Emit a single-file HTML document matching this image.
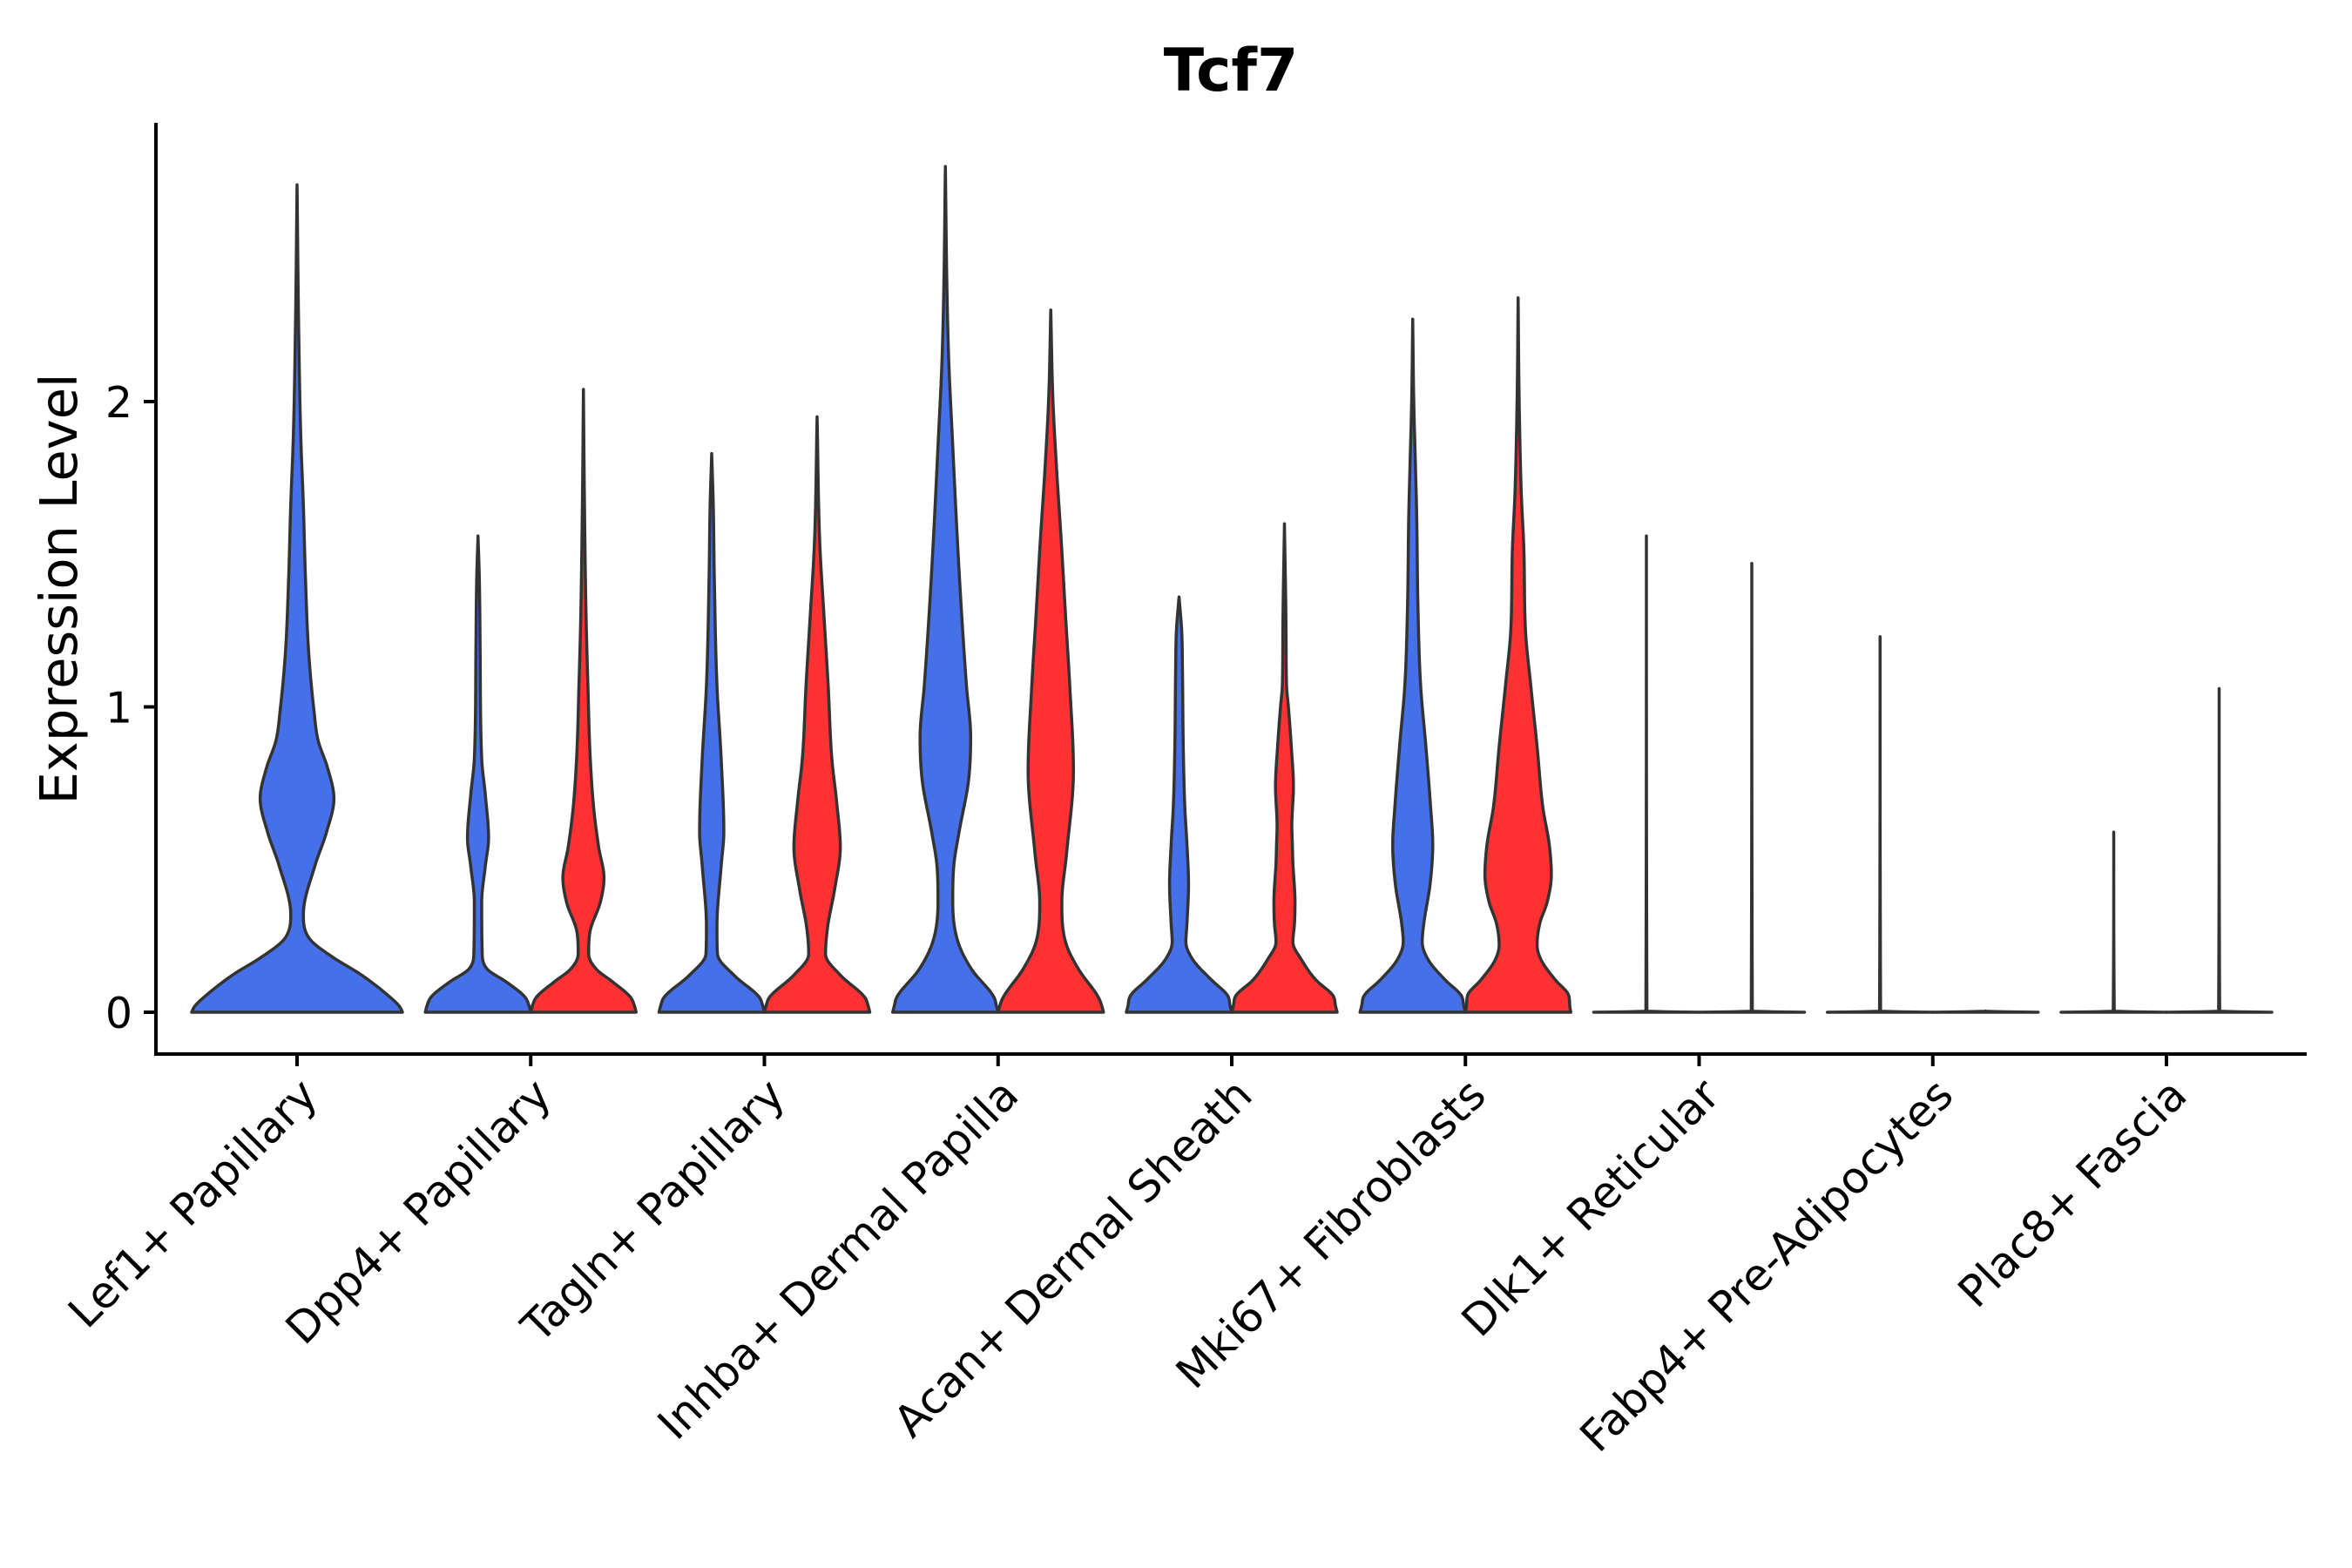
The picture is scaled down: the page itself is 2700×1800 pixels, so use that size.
<!DOCTYPE html>
<html><head><meta charset="utf-8"><style>
html,body{margin:0;padding:0;background:#fff;}
svg{display:block;font-family:"DejaVu Sans","Liberation Sans",sans-serif;}
</style></head>
<body>
<svg id="chart" width="2700" height="1800" viewBox="0 0 2700 1800" xmlns="http://www.w3.org/2000/svg">
<rect width="2700" height="1800" fill="#fff"/>
<text x="1413" y="104" text-anchor="middle" font-size="68" font-weight="bold">Tcf7</text>
<text transform="translate(88,676) rotate(-90)" text-anchor="middle" font-size="59">Expression Level</text>
<g id="violins"></g>
<g id="axes"></g>
</svg>
<script>
const categories = ["Lef1+ Papillary","Dpp4+ Papillary","Tagln+ Papillary","Inhba+ Dermal Papilla","Acan+ Dermal Sheath","Mki67+ Fibroblasts","Dlk1+ Reticular","Fabp4+ Pre-Adipocytes","Plac8+ Fascia"];
const yTicks = [0,1,2];
const yTickLabels = ["0","1","2"];
// density profiles: [expression value, relative width]
const blueProfiles = [
 [[0,1],[0.02,0.97],[0.05,0.88],[0.12,0.62],[0.18,0.34],[0.24,0.12],[0.32,0.06],[0.48,0.17],[0.59,0.28],[0.70,0.35],[0.80,0.29],[0.89,0.2],[0.99,0.16],[1.18,0.11],[1.42,0.08],[1.66,0.06],[1.89,0.035],[2.25,0.015],[2.71,0]],
 [[0,1],[0.02,0.97],[0.05,0.89],[0.10,0.53],[0.14,0.18],[0.19,0.08],[0.36,0.07],[0.48,0.14],[0.57,0.2],[0.71,0.14],[0.83,0.07],[1.19,0.04],[1.42,0.025],[1.56,0]],
 [[0,1],[0.02,0.97],[0.05,0.9],[0.12,0.43],[0.19,0.11],[0.28,0.1],[0.48,0.18],[0.59,0.23],[0.83,0.18],[1.07,0.1],[1.42,0.05],[1.66,0.03],[1.83,0]],
 [[0,1],[0.02,0.97],[0.05,0.92],[0.14,0.5],[0.23,0.24],[0.36,0.14],[0.48,0.16],[0.59,0.26],[0.76,0.44],[0.90,0.48],[1.07,0.4],[1.30,0.31],[1.54,0.23],[1.89,0.13],[2.13,0.065],[2.37,0.03],[2.77,0]],
 [[0,1],[0.02,0.97],[0.055,0.92],[0.105,0.62],[0.17,0.27],[0.23,0.13],[0.29,0.15],[0.42,0.18],[0.55,0.15],[0.67,0.11],[0.87,0.08],[1.12,0.065],[1.25,0.05],[1.36,0]],
 [[0,1],[0.02,0.97],[0.055,0.92],[0.105,0.62],[0.17,0.3],[0.23,0.18],[0.29,0.21],[0.42,0.33],[0.55,0.38],[0.67,0.34],[0.87,0.25],[1.07,0.15],[1.32,0.1],[1.63,0.075],[1.8,0.05],[2.0,0.02],[2.27,0]],
 [[0,1],[0.003,0.01],[1.56,0]],
 [[0,1],[0.003,0.01],[1.23,0]],
 [[0,1],[0.003,0.01],[0.59,0]]
];
const redProfiles = [
 null,
 [[0,1],[0.02,0.97],[0.05,0.89],[0.10,0.55],[0.14,0.25],[0.19,0.1],[0.26,0.12],[0.36,0.32],[0.44,0.39],[0.54,0.29],[0.66,0.2],[0.83,0.13],[1.07,0.085],[1.30,0.05],[1.66,0.02],[2.04,0]],
 [[0,1],[0.02,0.97],[0.05,0.9],[0.12,0.45],[0.19,0.16],[0.28,0.2],[0.40,0.33],[0.54,0.44],[0.69,0.37],[0.83,0.28],[1.07,0.21],[1.30,0.13],[1.54,0.05],[1.95,0]],
 [[0,1],[0.02,0.97],[0.05,0.9],[0.14,0.53],[0.23,0.28],[0.36,0.21],[0.52,0.3],[0.79,0.43],[1.07,0.36],[1.30,0.28],[1.54,0.2],[1.78,0.11],[2.01,0.04],[2.30,0]],
 [[0,1],[0.02,0.97],[0.055,0.92],[0.105,0.6],[0.17,0.33],[0.23,0.16],[0.29,0.19],[0.36,0.2],[0.49,0.16],[0.55,0.15],[0.61,0.14],[0.74,0.17],[0.87,0.13],[1.0,0.075],[1.07,0.04],[1.25,0.03],[1.6,0]],
 [[0,1],[0.02,0.98],[0.055,0.96],[0.105,0.71],[0.17,0.44],[0.22,0.36],[0.29,0.41],[0.36,0.55],[0.45,0.63],[0.55,0.59],[0.67,0.47],[0.87,0.36],[1.07,0.24],[1.25,0.14],[1.51,0.11],[1.70,0.06],[2.0,0.02],[2.34,0]],
 [[0,1],[0.003,0.01],[1.47,0]],
 [[0,1],[0.003,0.005],[0.004,0]],
 [[0,1],[0.003,0.01],[1.06,0]]
];

const NS="http://www.w3.org/2000/svg";
const plot={left:179,right:2648,top:141,bottom:1210};
const yMin=-0.137, yMax=2.913;
function yScale(v){return plot.bottom-(v-yMin)/(yMax-yMin)*(plot.bottom-plot.top);}
const catStart=341, catStep=268.25;
function xScale(i){return catStart+i*catStep;}
const fullHalf=121;
const blue="#4570ea", red="#ff3133";

// monotone cubic (Fritsch-Carlson) interpolation of width vs value
function monotone(prof){
  const n=prof.length,xs=prof.map(p=>p[0]),ys=prof.map(p=>p[1]);
  const d=[],m=[];
  for(let i=0;i<n-1;i++)d.push((ys[i+1]-ys[i])/(xs[i+1]-xs[i]));
  m[0]=d[0];m[n-1]=d[n-2];
  for(let i=1;i<n-1;i++)m[i]=(d[i-1]*d[i]<=0)?0:(d[i-1]+d[i])/2;
  for(let i=0;i<n-1;i++){
    if(d[i]===0){m[i]=0;m[i+1]=0;continue;}
    const a=m[i]/d[i],b=m[i+1]/d[i],s=a*a+b*b;
    if(s>9){const t=3/Math.sqrt(s);m[i]=t*a*d[i];m[i+1]=t*b*d[i];}
  }
  const out=[];
  for(let i=0;i<n-1;i++){
    const h=xs[i+1]-xs[i],steps=Math.max(2,Math.ceil(h*120));
    for(let k=0;k<steps;k++){
      const t=k/steps,t2=t*t,t3=t2*t;
      const y=(2*t3-3*t2+1)*ys[i]+(t3-2*t2+t)*h*m[i]+(-2*t3+3*t2)*ys[i+1]+(t3-t2)*h*m[i+1];
      out.push([xs[i]+t*h,Math.max(0,y)]);
    }
  }
  out.push([xs[n-1],ys[n-1]]);
  return out;
}
function violinPath(cx,half,prof){
  const pts=monotone(prof);
  const L=pts.map(p=>[cx-p[1]*half,yScale(p[0])]);
  const R=pts.map(p=>[cx+p[1]*half,yScale(p[0])]).reverse();
  const all=L.concat(R);
  return "M"+all.map(p=>p[0].toFixed(2)+","+p[1].toFixed(2)).join("L")+"Z";
}
const vg=document.getElementById("violins");
function addViolin(cx,half,prof,color,name){
  const p=document.createElementNS(NS,"path");
  p.setAttribute("d",violinPath(cx,half,prof));
  p.setAttribute("fill",color);
  p.setAttribute("stroke","#333");
  p.setAttribute("stroke-width","3.5");
  p.setAttribute("stroke-linejoin","round");
  
  
  vg.appendChild(p);
}
categories.forEach((c,i)=>{
  const cx=xScale(i);
  const slug=c.toLowerCase().replace(/[^a-z0-9]+/g,"-").replace(/-+$/,"");
  if(redProfiles[i]){
    addViolin(cx-fullHalf/2,fullHalf/2,blueProfiles[i],blue,"violin-"+slug+"-blue");
    addViolin(cx+fullHalf/2,fullHalf/2,redProfiles[i],red,"violin-"+slug+"-red");
  } else {
    addViolin(cx,fullHalf,blueProfiles[i],blue,"violin-"+slug+"-blue");
  }
});

const ag=document.getElementById("axes");
function line(x1,y1,x2,y2,name){
  const l=document.createElementNS(NS,"line");
  l.setAttribute("x1",x1);l.setAttribute("y1",y1);l.setAttribute("x2",x2);l.setAttribute("y2",y2);
  l.setAttribute("stroke","#000");l.setAttribute("stroke-width","4");
  
  
  ag.appendChild(l);
}
line(plot.left,plot.top,plot.left,plot.bottom+2,"y-axis-line");
line(plot.left-2,plot.bottom,plot.right,plot.bottom,"x-axis-line");
yTicks.forEach((v,i)=>{
  const y=yScale(v);
  line(165,y,plot.left,y,"y-tick");
  const t=document.createElementNS(NS,"text");
  t.setAttribute("x",152);t.setAttribute("y",y+18);
  t.setAttribute("text-anchor","end");t.setAttribute("font-size","49");
  t.textContent=yTickLabels[i];
  
  
  ag.appendChild(t);
});
categories.forEach((c,i)=>{
  const x=xScale(i);
  line(x,plot.bottom,x,1224,"x-tick");
  const t=document.createElementNS(NS,"text");
  t.setAttribute("transform","translate("+(x+26)+",1260) rotate(-45)");
  t.setAttribute("text-anchor","end");t.setAttribute("font-size","50");
  t.textContent=c;
  
  
  ag.appendChild(t);
});
</script>
</body></html>
